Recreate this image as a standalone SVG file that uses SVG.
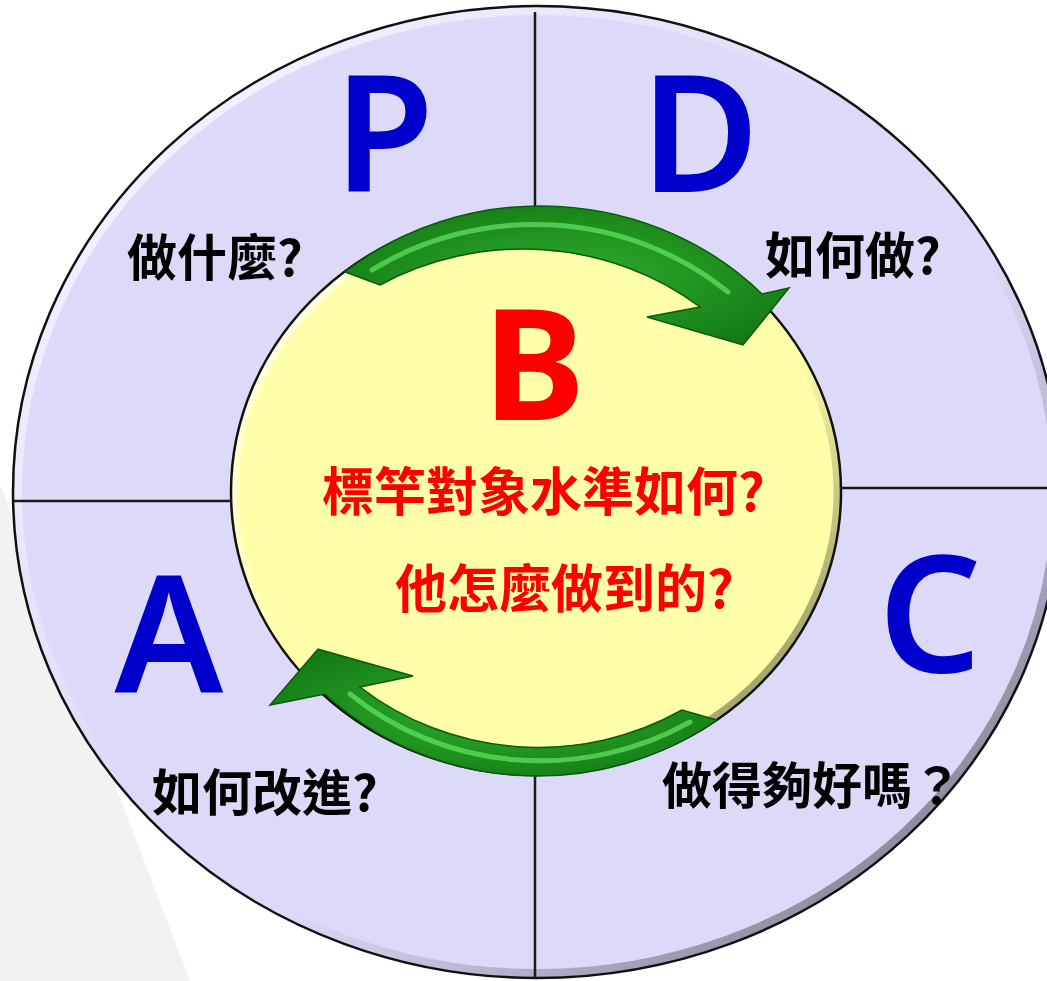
<svg xmlns="http://www.w3.org/2000/svg" width="1047" height="981" viewBox="0 0 1047 981">
<style>
.div{stroke:#1a1a1a;stroke-width:2.5;fill:none}
.big{font-family:"Noto Sans","Open Sans","Liberation Sans",sans-serif;font-size:162px;font-weight:600;fill:#0000cc;text-anchor:middle}
.q{font-family:"Noto Sans CJK TC","Noto Sans CJK SC",sans-serif;font-size:50px;font-weight:700;fill:#000}
.r{font-family:"Noto Sans CJK TC","Noto Sans CJK SC",sans-serif;font-size:52px;font-weight:700;fill:#ff0000}
.arrow{fill:url(#green);stroke:#0b5a0b;stroke-width:1.5;stroke-linejoin:miter}
.hl{fill:none;stroke:#5fe05f;stroke-width:5;stroke-linecap:round;opacity:0.75}
</style>
<defs>
<linearGradient id="rim" x1="0" y1="0" x2="1" y2="1">
<stop offset="0" stop-color="#ffffff" stop-opacity="0.9"/>
<stop offset="0.45" stop-color="#ffffff" stop-opacity="0"/>
<stop offset="0.6" stop-color="#000000" stop-opacity="0"/>
<stop offset="1" stop-color="#000000" stop-opacity="0.55"/>
</linearGradient>
<radialGradient id="green" cx="0.5" cy="0.5" r="0.6">
<stop offset="0" stop-color="#2fae2f"/>
<stop offset="1" stop-color="#137a13"/>
</radialGradient>
</defs>
<rect x="0" y="0" width="1047" height="981" fill="#ffffff"/>
<polygon points="0,484 190,981 0,981" fill="#f2f2f2"/>
<g id="outer-circle">
<ellipse cx="537" cy="492" rx="524" ry="486" fill="#dddaf9"/>
<ellipse cx="537" cy="492" rx="519" ry="481" fill="none" stroke="url(#rim)" stroke-width="8"/>
<ellipse cx="537" cy="492" rx="524" ry="486" fill="none" stroke="#111" stroke-width="2.5"/>
</g>
<g id="dividers">
<line class="div" x1="535" y1="12" x2="535" y2="215"/>
<line class="div" x1="535" y1="770" x2="535" y2="978"/>
<line class="div" x1="14" y1="501" x2="236" y2="501"/>
<line class="div" x1="836" y1="488" x2="1047" y2="488"/>
</g>
<g id="inner-circle">
<ellipse cx="536" cy="492" rx="305" ry="283" fill="#ffffaa"/>
<ellipse cx="536" cy="492" rx="301" ry="279" fill="none" stroke="url(#rim)" stroke-width="7"/>
<ellipse cx="536" cy="492" rx="305" ry="283" fill="none" stroke="#111" stroke-width="2.5"/>
</g>
<g id="node-P">
<text class="big" x="384" y="192">P</text>
<text class="q" x="127" y="276">做什麼?</text>
</g>
<g id="node-D">
<text class="big" x="700" y="192">D</text>
<text class="q" x="765" y="274">如何做?</text>
</g>
<g id="node-C">
<text class="big" x="930" y="672">C</text>
<text class="q" x="662" y="804">做得夠好嗎？</text>
</g>
<g id="node-A">
<text class="big" x="169" y="693">A</text>
<text class="q" x="152" y="811">如何改進?</text>
</g>
<g id="node-B">
<text x="534" y="420" font-family="Noto Sans,Open Sans,Liberation Sans,sans-serif" font-size="154" font-weight="700" fill="#ff0000" text-anchor="middle">B</text>
<text class="r" x="322" y="511">標竿對象水準如何?</text>
<text class="r" x="395" y="608">他怎麼做到的?</text>
</g>
<g id="connectors">
<path class="arrow" d="M345,272 A305,283 0 0 1 762,294 L789,288 L743,345 L647,317 L700,307 A281,259 0 0 0 380,285 Z"/>
<path class="hl" d="M372,270 A293,271 0 0 1 728,292"/>
<path class="arrow" d="M717,720 A305,291 0 0 1 325,694 L270,705 L318,649 L413,676 L360,687 A281,266 0 0 0 682,710 Z"/>
<path class="hl" d="M690,722 A293,278 0 0 1 350,694"/>
</g>
</svg>
